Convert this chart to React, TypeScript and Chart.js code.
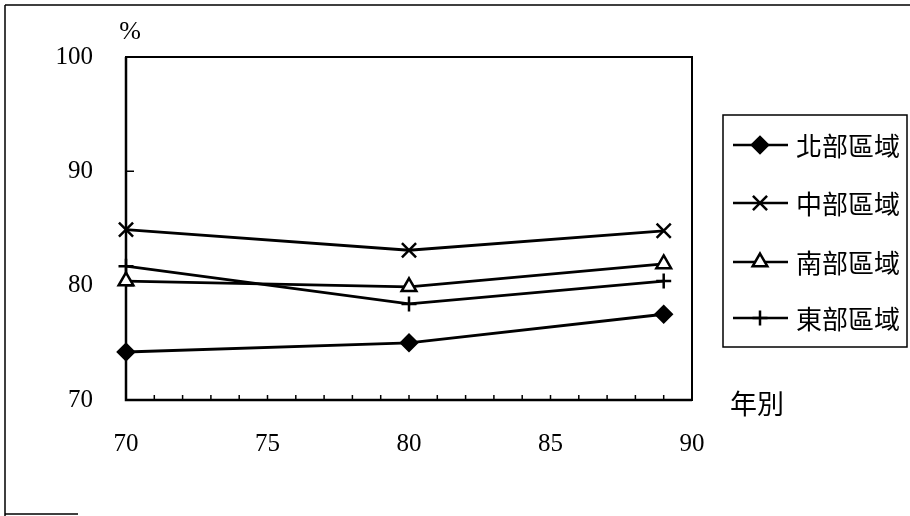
import React, { useEffect, useRef } from "react";
import { Chart, registerables } from "chart.js";

Chart.register(...registerables);

// ---- data ----
const years = [70, 80, 89];
const seriesNames = ["北部區域", "中部區域", "南部區域", "東部區域"];
const north = [74.2, 75.0, 77.5];
const central = [84.9, 83.1, 84.8];
const south = [80.4, 79.9, 81.9];
const east = [81.7, 78.4, 80.4];
const xTickLabels = [70, 75, 80, 85, 90];
const yTickLabels = [70, 80, 90, 100];
const yAxisTitle = "%";
const xAxisTitle = "年別";

// ---- styles ----
const seriesValues = [north, central, south, east];
const pointStyles = ["rectRot", "crossRot", "triangle", "cross"];
const pointRadii = [8, 10, 8.5, 7.5];
const pointFills = ["#000", "#000", "#fff", "#000"];

const SERIF = '"Liberation Serif", "Times New Roman", Times, serif';
const CJK = '"Noto Sans CJK TC", "Noto Sans CJK SC", sans-serif';

function drawMarker(ctx: CanvasRenderingContext2D, style: string, x: number, y: number, r: number, fill: string) {
  ctx.save();
  ctx.strokeStyle = "#000";
  ctx.fillStyle = fill;
  ctx.lineWidth = 2.5;
  ctx.beginPath();
  if (style === "rectRot") {
    ctx.moveTo(x - r, y);
    ctx.lineTo(x, y - r);
    ctx.lineTo(x + r, y);
    ctx.lineTo(x, y + r);
    ctx.closePath();
    ctx.fill();
    ctx.stroke();
  } else if (style === "crossRot") {
    const d = Math.SQRT1_2 * r;
    ctx.moveTo(x - d, y - d);
    ctx.lineTo(x + d, y + d);
    ctx.moveTo(x - d, y + d);
    ctx.lineTo(x + d, y - d);
    ctx.stroke();
  } else if (style === "triangle") {
    const a = (2 * Math.PI) / 3;
    for (let i = 0; i < 3; i++) {
      const ang = -Math.PI / 2 + i * a;
      const px = x + Math.cos(ang) * r;
      const py = y + Math.sin(ang) * r;
      if (i === 0) ctx.moveTo(px, py);
      else ctx.lineTo(px, py);
    }
    ctx.closePath();
    ctx.fill();
    ctx.stroke();
  } else if (style === "cross") {
    ctx.moveTo(x, y - r);
    ctx.lineTo(x, y + r);
    ctx.moveTo(x - r, y);
    ctx.lineTo(x + r, y);
    ctx.stroke();
  }
  ctx.restore();
}

const framePlugin = {
  id: "framePlugin",
  beforeDatasetsDraw(chart: any) {
    const ctx: CanvasRenderingContext2D = chart.ctx;
    const { left, right, top, bottom } = chart.chartArea;
    const xs = chart.scales.x;
    const ys = chart.scales.y;
    ctx.save();
    ctx.strokeStyle = "#000";
    ctx.lineWidth = 2;
    ctx.strokeRect(left, top, right - left, bottom - top);
    ctx.lineWidth = 2.5;
    ctx.beginPath();
    ctx.moveTo(left, top);
    ctx.lineTo(left, bottom);
    ctx.lineTo(right, bottom);
    ctx.stroke();
    ctx.lineWidth = 1.5;
    ctx.beginPath();
    for (const v of yTickLabels) {
      if (v === ys.min || v === ys.max) continue;
      const py = ys.getPixelForValue(v);
      ctx.moveTo(left, py);
      ctx.lineTo(left + 8, py);
    }
    for (let v = xs.min + 1; v < xs.max; v++) {
      const px = xs.getPixelForValue(v);
      ctx.moveTo(px, bottom);
      ctx.lineTo(px, bottom - 5);
    }
    ctx.stroke();
    ctx.restore();
  },
  afterDraw(chart: any) {
    const ctx: CanvasRenderingContext2D = chart.ctx;
    ctx.save();
    ctx.strokeStyle = "#000";
    ctx.lineWidth = 1.5;
    ctx.beginPath();
    ctx.moveTo(5, 5);
    ctx.lineTo(910, 5);
    ctx.moveTo(5, 5);
    ctx.lineTo(5, 516);
    ctx.moveTo(5, 514);
    ctx.lineTo(78, 514);
    ctx.stroke();

    ctx.fillStyle = "#000";
    ctx.textAlign = "center";
    ctx.textBaseline = "middle";
    ctx.font = `26px ${SERIF}`;
    ctx.fillText(yAxisTitle, 130, 32);
    ctx.font = `27px ${CJK}`;
    ctx.fillText(xAxisTitle, 757, 404);

    const lx = 723, ly = 115, lw = 184, lh = 232;
    ctx.lineWidth = 1.5;
    ctx.strokeRect(lx, ly, lw, lh);
    const rows = [145, 203, 262, 318];
    chart.data.datasets.forEach((ds: any, i: number) => {
      const y = rows[i];
      ctx.lineWidth = 2.5;
      ctx.beginPath();
      ctx.moveTo(733, y);
      ctx.lineTo(788, y);
      ctx.stroke();
      drawMarker(ctx, pointStyles[i], 760, y, pointRadii[i], pointFills[i]);
      ctx.fillStyle = "#000";
      ctx.textAlign = "left";
      ctx.textBaseline = "middle";
      ctx.font = `26px ${CJK}`;
      ctx.fillText(ds.label, 796, y + 1);
    });
    ctx.restore();
  },
};

export default function App() {
  const canvasRef = useRef<HTMLCanvasElement | null>(null);

  useEffect(() => {
    let chart: any = null;
    let cancelled = false;
    const build = () => {
      if (cancelled || !canvasRef.current) return;
      const datasets = seriesNames.map((name, i) => ({
        label: name,
        data: years.map((yr, j) => ({ x: yr, y: seriesValues[i][j] })),
        borderColor: "#000",
        borderWidth: 2.8,
        pointStyle: pointStyles[i],
        pointRadius: pointRadii[i],
        pointBorderWidth: 2.5,
        pointBorderColor: "#000",
        pointBackgroundColor: pointFills[i],
        tension: 0,
        fill: false,
        clip: false,
      }));

      chart = new Chart(canvasRef.current, {
        type: "line",
        data: { datasets },
        options: {
          animation: false,
          responsive: false,
          devicePixelRatio: 1,
          layout: { padding: { top: 57, right: 218, bottom: 0, left: 0 } },
          plugins: { legend: { display: false }, tooltip: { enabled: false } },
          scales: {
            x: {
              type: "linear",
              min: 70,
              max: 90,
              afterFit: (s: any) => { s.height = 116; },
              afterBuildTicks: (s: any) => { s.ticks = xTickLabels.map((v) => ({ value: v })); },
              grid: { display: false },
              border: { display: false },
              ticks: {
                color: "#000",
                padding: 21,
                font: { family: SERIF, size: 25 },
                maxRotation: 0,
                autoSkip: false,
              },
            },
            y: {
              type: "linear",
              min: 70,
              max: 100,
              afterFit: (s: any) => { s.width = 126; },
              afterBuildTicks: (s: any) => { s.ticks = yTickLabels.map((v) => ({ value: v })); },
              grid: { display: false },
              border: { display: false },
              ticks: {
                color: "#000",
                padding: 25,
                font: { family: SERIF, size: 25 },
                autoSkip: false,
              },
            },
          },
        },
        plugins: [framePlugin],
      } as any);
    };
    const fontsApi: any = (document as any).fonts;
    if (fontsApi && fontsApi.load) {
      Promise.all([
        fontsApi.load('25px "Liberation Serif"'),
        fontsApi.load('26px "Noto Sans CJK TC"', "北部區域年別"),
      ]).then(build, build);
    } else {
      build();
    }
    return () => {
      cancelled = true;
      if (chart) chart.destroy();
    };
  }, []);

  return (
    <div style={{ position: "absolute", left: 0, top: 0, width: 910, height: 516, background: "#fff" }}>
      <canvas ref={canvasRef} width={910} height={516} style={{ display: "block" }} />
    </div>
  );
}
